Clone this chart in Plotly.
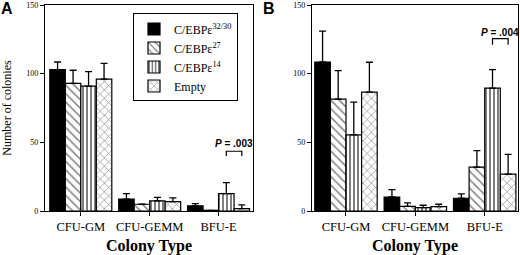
import plotly.graph_objects as go

categories = ["CFU-GM", "CFU-GEMM", "BFU-E"]
series_names = ["C/EBPε<sup>32/30</sup>", "C/EBPε<sup>27</sup>", "C/EBPε<sup>14</sup>", "Empty"]

# Panel A values and upper error (SEM)
a_3230 = [103, 8.7, 3.7]
a_27 = [93, 4.9, 0.5]
a_14 = [91, 7.3, 12.6]
a_empty = [96, 6.8, 1.7]
a_3230_err = [5.5, 3.9, 1.6]
a_27_err = [9.5, 0, 0]
a_14_err = [10.5, 2.6, 8.0]
a_empty_err = [11.5, 2.7, 2.7]

# Panel B values and upper error (SEM)
b_3230 = [108.5, 10.2, 9.3]
b_27 = [81.5, 3.4, 32]
b_14 = [55.4, 2.5, 89.5]
b_empty = [86.6, 3.2, 26.8]
b_3230_err = [22.5, 5.4, 3.1]
b_27_err = [20.7, 2.5, 11.9]
b_14_err = [23.9, 1.7, 13.4]
b_empty_err = [21.7, 1.7, 14.4]

y_ticks = [0, 50, 100, 150]
p_a = "<i>P</i> = .003"
p_b = "<i>P</i> = .004"

patterns = ["", "\\", "|", "x"]
pat_size = [8, 6, 4, 6]
pat_sol = [0.2, 0.25, 0.5, 0.2]
colors = ["black", "white", "white", "white"]

x_idx = [0, 1, 2]
fig = go.Figure()

panels = [
    ([a_3230, a_27, a_14, a_empty], [a_3230_err, a_27_err, a_14_err, a_empty_err], "x", "y", True),
    ([b_3230, b_27, b_14, b_empty], [b_3230_err, b_27_err, b_14_err, b_empty_err], "x2", "y2", False),
]
for vals_list, errs_list, xa, ya, show in panels:
    for i, (vals, errs) in enumerate(zip(vals_list, errs_list)):
        fig.add_trace(go.Bar(
            x=x_idx, y=vals, name=series_names[i], xaxis=xa, yaxis=ya,
            showlegend=show, legendgroup=str(i),
            marker=dict(color=colors[i], line=dict(color="black", width=1.2),
                        pattern=dict(shape=patterns[i], fgcolor="black", bgcolor="white" if i else "black",
                                     size=pat_size[i], solidity=pat_sol[i])),
            error_y=dict(type="data", symmetric=False, array=errs, arrayminus=[0, 0, 0],
                         color="black", thickness=1.3, width=3.5),
        ))

W, H = 520, 255
ML, MR, MT, MB = 45, 2, 4.5, 44.3
IW = W - ML - MR
IH = H - MT - MB
def fx(p):
    return (p - ML) / IW
def fy(p):
    return (H - MB - p) / IH

axis_common = dict(showline=True, linecolor="black", linewidth=1.3, mirror=True, automargin=False,
                   ticks="outside", tickcolor="black", ticklen=4, showgrid=False, zeroline=False)
xax = dict(axis_common, tickvals=x_idx, ticktext=categories,
           tickfont=dict(family="Liberation Serif", size=12.5, color="black"),
           title=dict(text="<b>Colony Type</b>", font=dict(family="Liberation Serif", size=16, color="black"), standoff=8))
yax = dict(axis_common, range=[0, 150], tickvals=y_ticks, domain=[0, 1],
           tickfont=dict(family="Liberation Serif", size=8, color="black"))

fig.update_layout(
    width=W, height=H, margin=dict(l=ML, r=MR, t=MT, b=MB, autoexpand=False),
    paper_bgcolor="white", plot_bgcolor="white",
    barmode="group", bargap=0.1, bargroupgap=0,
    xaxis=dict(xax, domain=[0, fx(253)], range=[-0.52, 2.5], anchor="y"),
    yaxis=dict(yax, anchor="x",
               title=dict(text="Number of colonies", font=dict(family="Liberation Serif", size=12, color="black"), standoff=13)),
    xaxis2=dict(xax, domain=[fx(312), 1], range=[-0.49, 2.48], anchor="y2"),
    yaxis2=dict(yax, anchor="x2"),
    legend=dict(x=fx(133), y=fy(13), xanchor="left", yanchor="top",
                bordercolor="black", borderwidth=1, bgcolor="white",
                font=dict(family="Liberation Serif", size=12, color="black"),
                tracegroupgap=0, itemwidth=30),
    showlegend=True,
)

off14, offE = 0.1125, 0.3375
brackets = [("x", "y", 43.5, 40, p_a, 49), ("x2", "y2", 125.5, 121, p_b, 130)]
for xa, ya, ytop, yleg, txt, ytxt in brackets:
    x0, x1 = 2 + off14, 2 + offE
    fig.add_shape(type="path", xref=xa, yref=ya,
                  path=f"M {x0} {yleg} L {x0} {ytop} L {x1} {ytop} L {x1} {yleg}",
                  line=dict(color="black", width=1.2))
    fig.add_annotation(x=(x0 + x1) / 2, y=ytxt, xref=xa, yref=ya, text=f"<b>{txt}</b>",
                       showarrow=False, font=dict(family="Liberation Sans", size=10, color="black"),
                       yanchor="middle", xanchor="center")

for lbl, px in [("A", 7), ("B", 269)]:
    fig.add_annotation(x=fx(px), y=fy(8), xref="paper", yref="paper", text=f"<b>{lbl}</b>",
                       showarrow=False, font=dict(family="Liberation Sans", size=16, color="black"),
                       xanchor="center", yanchor="middle")

fig.write_html("out.html", config={"displayModeBar": False},
               post_script="document.body.style.margin='0';")
